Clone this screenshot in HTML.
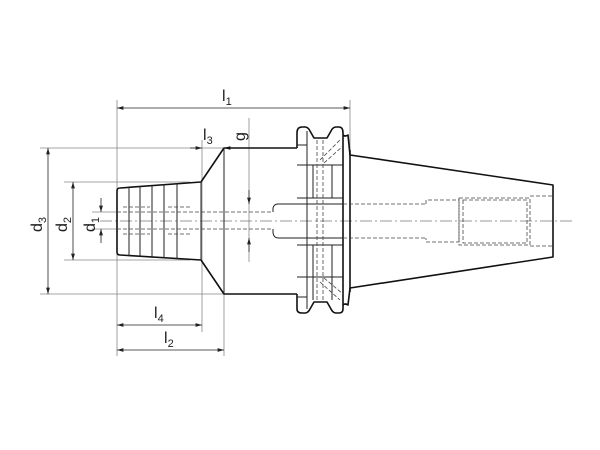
<!DOCTYPE html>
<html><head><style>html,body{margin:0;padding:0;background:#fff}svg{display:block}</style></head>
<body>
<svg width="600" height="450" viewBox="0 0 600 450" xmlns="http://www.w3.org/2000/svg" font-family="Liberation Sans, sans-serif">
<defs>
<marker id="a" viewBox="0 0 10 6" refX="10" refY="3" markerWidth="8" markerHeight="5" orient="auto-start-reverse"><path d="M0,0 L10,3 L0,6z" fill="#222"/></marker>
</defs>
<g stroke="#888" stroke-width="0.8" fill="none">
<line x1="117" y1="100" x2="117" y2="356"/>
<line x1="224" y1="148" x2="224" y2="356"/>
<line x1="202" y1="140" x2="202" y2="332"/>
<line x1="350" y1="100" x2="350" y2="290"/>
<line x1="249" y1="118" x2="249" y2="262"/>
<line x1="40" y1="148" x2="224" y2="148"/>
<line x1="40" y1="294" x2="224" y2="294"/>
<line x1="64" y1="182" x2="190" y2="182"/>
<line x1="64" y1="260" x2="190" y2="260"/>
<line x1="92" y1="212" x2="117" y2="212"/>
<line x1="92" y1="229" x2="117" y2="229"/>
</g>
<line x1="100" y1="221" x2="572" y2="221" stroke="#777" stroke-width="0.7" stroke-dasharray="12,3,2,3"/>
<g stroke="#222" stroke-width="0.8" fill="none">
<line x1="117" y1="108" x2="350" y2="108" marker-start="url(#a)" marker-end="url(#a)"/>
<line x1="48" y1="148" x2="48" y2="294" marker-start="url(#a)" marker-end="url(#a)"/>
<line x1="73" y1="182" x2="73" y2="260" marker-start="url(#a)" marker-end="url(#a)"/>
<line x1="101" y1="198" x2="101" y2="212" marker-end="url(#a)"/>
<line x1="101" y1="243" x2="101" y2="229" marker-end="url(#a)"/>
<line x1="249" y1="190" x2="249" y2="204" marker-end="url(#a)"/>
<line x1="249" y1="252" x2="249" y2="238" marker-end="url(#a)"/>
<line x1="190" y1="148" x2="202" y2="148" marker-end="url(#a)"/>
<line x1="236" y1="148" x2="224" y2="148" marker-end="url(#a)"/>
<line x1="117" y1="325" x2="202" y2="325" marker-start="url(#a)" marker-end="url(#a)"/>
<line x1="117" y1="350" x2="224" y2="350" marker-start="url(#a)" marker-end="url(#a)"/>
</g>
<g stroke="#111" stroke-width="1.6" fill="none" stroke-linejoin="round">
<path d="M297,148 L224,148 L201,182 L120,188 Q117,188 117,191 L117,252 Q117,255 120,255 L201,260 L224,294 L297,294"/>
<path d="M297,148 L297,133 Q297,127 302,127 L305,127 Q308,127 310,131 L314,138 L327,138 L331,131 Q333,127 336,127 L339,127 Q343,127 343,133 L343,309 Q343,313 339,313 L336,313 Q333,313 331,309 L327,302 L314,302 L310,309 Q308,313 305,313 L302,313 Q297,313 297,309 L297,294"/>
<path d="M343,135 Q345,137 348,135 L350,155 L553,185 L553,257 L350,288 L348,305 Q345,303 343,305"/>
<line x1="350" y1="150" x2="350" y2="292"/>
</g>
<g stroke="#222" stroke-width="1" fill="none">
<line x1="224" y1="148" x2="224" y2="294"/>
<line x1="201" y1="182" x2="201" y2="260"/>
<line x1="129" y1="187" x2="129" y2="256"/>
<line x1="140" y1="186" x2="140" y2="257"/>
<line x1="152" y1="185" x2="152" y2="258"/>
<line x1="164" y1="184" x2="164" y2="258"/>
<line x1="177" y1="183" x2="177" y2="259"/>
<line x1="297" y1="145" x2="307" y2="145"/>
<line x1="297" y1="297" x2="307" y2="297"/>
<line x1="307" y1="131" x2="307" y2="309"/>
<line x1="297" y1="165" x2="343" y2="165"/>
<line x1="297" y1="277" x2="343" y2="277"/>
<line x1="313" y1="165" x2="313" y2="198"/>
<line x1="332" y1="165" x2="332" y2="198"/>
<line x1="313" y1="245" x2="313" y2="300"/>
<line x1="332" y1="245" x2="332" y2="300"/>
<line x1="297" y1="198" x2="343" y2="198"/>
<line x1="297" y1="245" x2="343" y2="245"/>
<path d="M273,212 L273,208 Q274,204 278,204 L343,204"/>
<path d="M273,229 L273,233 Q274,238 278,238 L343,238"/>
</g>
<g stroke="#444" stroke-width="0.8" fill="none" stroke-dasharray="4,2">
<line x1="117" y1="212" x2="273" y2="212"/>
<line x1="117" y1="229" x2="273" y2="229"/>
<path d="M123,207 L150,207 M168,207 L192,207 M123,234 L150,234 M168,234 L192,234"/>
<line x1="317" y1="140" x2="317" y2="300"/>
<line x1="323" y1="140" x2="323" y2="300"/>
<path d="M320,160 L340,140 M324,163 L343,146 M320,282 L340,300 M324,278 L343,294"/>
<line x1="343" y1="204" x2="426" y2="204"/>
<line x1="343" y1="238" x2="426" y2="238"/>
<path d="M426,204 L426,200 L459,200 L459,242 L426,242 L426,238"/>
<path d="M459,198 L530,198 L530,245 L459,245 Z"/>
<path d="M463,200 L527,200 L527,243 L463,243 Z"/>
<path d="M530,196 L553,196 M530,246 L553,246"/>
</g>
<g fill="#222" font-size="16">
<text x="222" y="101">l<tspan font-size="11" dy="4">1</tspan></text>
<text x="203" y="140">l<tspan font-size="11" dy="4">3</tspan></text>
<text x="154" y="318">l<tspan font-size="11" dy="4">4</tspan></text>
<text x="164" y="343">l<tspan font-size="11" dy="4">2</tspan></text>
<text transform="translate(42,232) rotate(-90)">d<tspan font-size="11" dy="4">3</tspan></text>
<text transform="translate(67,232) rotate(-90)">d<tspan font-size="11" dy="4">2</tspan></text>
<text transform="translate(95,232) rotate(-90)">d<tspan font-size="11" dy="4">1</tspan></text>
<text transform="translate(245,141) rotate(-90)">g</text>
</g>
</svg>
</body></html>
